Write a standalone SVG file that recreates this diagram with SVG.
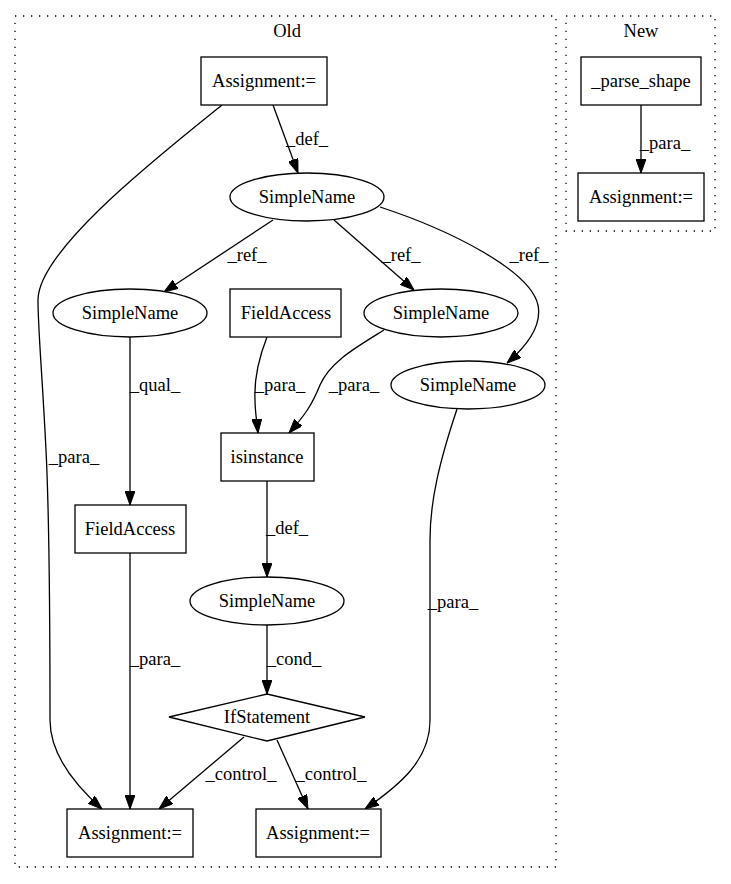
<svg xmlns="http://www.w3.org/2000/svg" width="731" height="884" viewBox="0 0 731 884">
<style>
text{font-family:"Liberation Serif","Times New Roman",serif;font-size:18.5px;fill:#000;text-anchor:middle}
.n{fill:#fff;stroke:#000;stroke-width:1.3}
.c{fill:none;stroke:#000;stroke-width:1.3;stroke-dasharray:1.3,6.7}
.e{fill:none;stroke:#000;stroke-width:1.3}
</style>
<defs>
<marker id="a" viewBox="0 0 14 10" refX="14" refY="5" markerWidth="14" markerHeight="10" markerUnits="userSpaceOnUse" orient="auto">
<path d="M0,0 L14,5 L0,10 Z" fill="#000" stroke="#000"/>
</marker>
</defs>
<rect width="731" height="884" fill="#fff"/>
<g id="cluster_old">
<rect class="c" x="15" y="16" width="541" height="851"/>
<text x="287" y="37">Old</text>
</g>
<g id="cluster_new">
<rect class="c" x="566" y="16" width="149" height="215"/>
<text x="641" y="37">New</text>
</g>
<g id="edges">
<path class="e" marker-end="url(#a)" d="M273,105 L298,173"/>
<text x="307" y="145">_def_</text>
<path class="e" marker-end="url(#a)" d="M222,105 C160,155 38,250 38,300 C38,330 42,370 46,450 C50,530 50,680 50,720 C50,755 75,785 102,809"/>
<text x="74" y="463">_para_</text>
<path class="e" marker-end="url(#a)" d="M273,220 L164,292"/>
<text x="247" y="261">_ref_</text>
<path class="e" marker-end="url(#a)" d="M334,220 L414,290"/>
<text x="401" y="261">_ref_</text>
<path class="e" marker-end="url(#a)" d="M380,207 C450,230 530,270 538,305 C542,325 528,345 507,363"/>
<text x="529" y="261">_ref_</text>
<path class="e" marker-end="url(#a)" d="M130,337 L130,505"/>
<text x="155" y="391">_qual_</text>
<path class="e" marker-end="url(#a)" d="M267,337 C258,360 254,380 255,400 C255,412 257,422 258,433"/>
<text x="280" y="391">_para_</text>
<path class="e" marker-end="url(#a)" d="M384,330 C355,348 330,362 320,385 C312,405 305,415 289,433"/>
<text x="354" y="391">_para_</text>
<path class="e" marker-end="url(#a)" d="M457,409 C440,460 430,500 430,540 L430,720 C430,760 400,785 365,809"/>
<text x="453" y="608">_para_</text>
<path class="e" marker-end="url(#a)" d="M267,481 L267,577"/>
<text x="287" y="534">_def_</text>
<path class="e" marker-end="url(#a)" d="M130,553 L130,809"/>
<text x="155" y="665">_para_</text>
<path class="e" marker-end="url(#a)" d="M267,625 L267,694"/>
<text x="294" y="665">_cond_</text>
<path class="e" marker-end="url(#a)" d="M244,737 L159,809"/>
<text x="241" y="780">_control_</text>
<path class="e" marker-end="url(#a)" d="M277,740 L308,809"/>
<text x="331" y="780">_control_</text>
<path class="e" marker-end="url(#a)" d="M641,105 L641,173"/>
<text x="665" y="149">_para_</text>
</g>
<g id="n_assign_top"><rect class="n" x="201" y="57" width="126" height="48"/><text x="264" y="87">Assignment:=</text></g>
<g id="n_simplename_top"><ellipse class="n" cx="307" cy="197" rx="77" ry="24"/><text x="307" y="203">SimpleName</text></g>
<g id="n_simplename_left"><ellipse class="n" cx="130" cy="313" rx="77" ry="24"/><text x="130" y="319">SimpleName</text></g>
<g id="n_fieldaccess_top"><rect class="n" x="230" y="289" width="111" height="48"/><text x="286" y="319">FieldAccess</text></g>
<g id="n_simplename_mid"><ellipse class="n" cx="441" cy="313" rx="77" ry="24"/><text x="441" y="319">SimpleName</text></g>
<g id="n_simplename_right"><ellipse class="n" cx="468" cy="385" rx="77" ry="24"/><text x="468" y="391">SimpleName</text></g>
<g id="n_isinstance"><rect class="n" x="221" y="433" width="93" height="48"/><text x="267" y="463">isinstance</text></g>
<g id="n_fieldaccess_low"><rect class="n" x="75" y="505" width="111" height="48"/><text x="130" y="535">FieldAccess</text></g>
<g id="n_simplename_low"><ellipse class="n" cx="267" cy="601" rx="77" ry="24"/><text x="267" y="607">SimpleName</text></g>
<g id="n_if"><polygon class="n" points="169,717 267,694 365,717 267,741"/><text x="267" y="723">IfStatement</text></g>
<g id="n_assign_bl"><rect class="n" x="67" y="809" width="126" height="48"/><text x="130" y="839">Assignment:=</text></g>
<g id="n_assign_br"><rect class="n" x="256" y="809" width="125" height="48"/><text x="318" y="839">Assignment:=</text></g>
<g id="n_parse_shape"><rect class="n" x="581" y="57" width="120" height="48"/><text x="641" y="87">_parse_shape</text></g>
<g id="n_assign_new"><rect class="n" x="578" y="173" width="126" height="48"/><text x="641" y="203">Assignment:=</text></g>
</svg>
